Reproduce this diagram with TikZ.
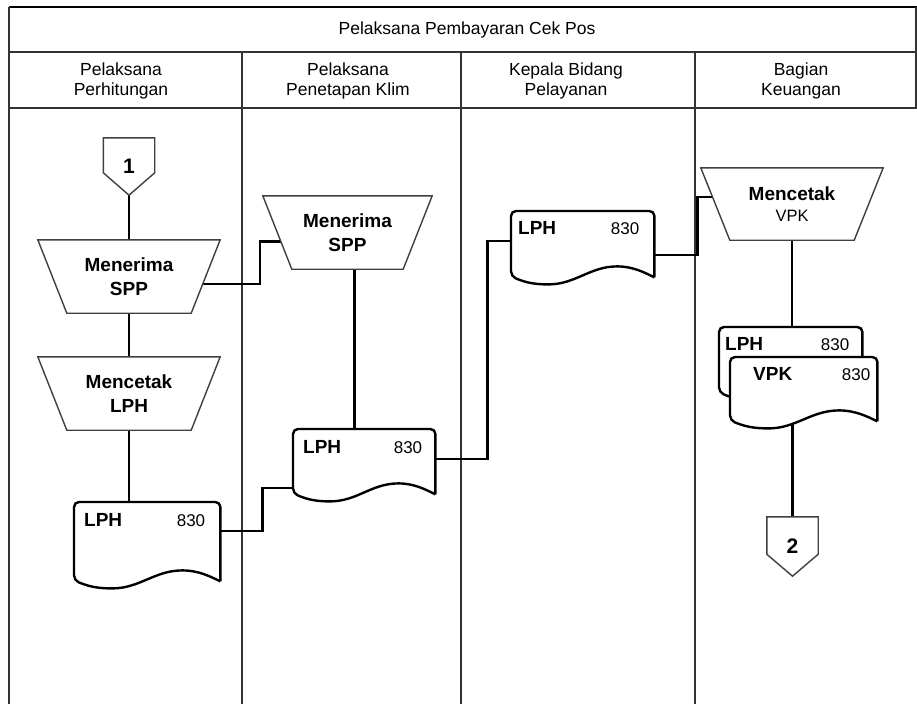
\documentclass[tikz,border=0pt]{standalone}
\usepackage{fontspec}
\setmainfont{Liberation Sans}
\usetikzlibrary{calc,backgrounds}

\tikzset{
  lane/.style={draw=black!80, line width=1.1pt},
  flow/.style={draw=black, line width=2.4pt},
  procline/.style={draw=black!75, line width=1.4pt, fill=white},
  docline/.style={draw=black, line width=2.4pt, fill=white},
  hdr/.style={font=\fontsize{17.5}{20}\selectfont, align=center},
  proc/.style={inner sep=0, minimum height=73, align=center, font=\fontsize{19}{23.5}\selectfont\bfseries},
  docbox/.style={inner sep=0, anchor=north west},
  lbl/.style={font=\fontsize{19}{22}\selectfont\bfseries, inner sep=0},
  num/.style={font=\fontsize{17}{20}\selectfont, inner sep=0},
  pagecon/.style={inner sep=0, minimum width=51, font=\fontsize{21}{24}\selectfont\bfseries}
}

\newcommand{\trapez}[1]{\draw[procline] (#1.north west) -- (#1.north east) -- (#1-br) -- (#1-bl) -- cycle;}
\newcommand{\offpage}[2]{\draw[procline] (#1.north west) -- (#1.north east) -- ($(#1.north east)!#2!(#1.south east)$) -- (#1.south) -- ($(#1.north west)!#2!(#1.south west)$) -- cycle;}
\newcommand{\lembar}[1]{\draw[docline] ($(#1.south east)+(0,1)$) [rounded corners=5] -- (#1.north east) -- (#1.north west) -- (#1.south west) [sharp corners]
  .. controls ($(#1.south west)!0.1!(#1.south east)+(0,6)$) and ($(#1.south west)!0.16!(#1.south east)+(0,8)$) .. ($(#1.south west)!0.26!(#1.south east)+(0,8)$)
  .. controls ($(#1.south west)!0.45!(#1.south east)+(0,8)$) and ($(#1.south west)!0.55!(#1.south east)+(0,-10)$) .. ($(#1.south west)!0.74!(#1.south east)+(0,-10)$)
  .. controls ($(#1.south west)!0.85!(#1.south east)+(0,-10)$) and ($(#1.south west)!0.93!(#1.south east)+(0,-4)$) .. ($(#1.south east)+(0,1)$);}

\begin{document}
\begin{tikzpicture}[x=1pt, y=-1pt]
  \useasboundingbox (0,0) rectangle (917,704);

  % header
  \node[hdr] (title) at (467,30) {Pelaksana Pembayaran Cek Pos};
  \node[hdr] (hd1) at (121,81) {Pelaksana\\Perhitungan};
  \node[hdr] (hd2) at (348,81) {Pelaksana\\Penetapan Klim};
  \node[hdr] (hd3) at (566,81) {Kepala Bidang\\Pelayanan};
  \node[hdr] (hd4) at (801,81) {Bagian\\Keuangan};

  % Pelaksana Perhitungan
  \node[pagecon, minimum height=57] (c1) at (129,166.5) {1};
  \node[proc, minimum width=182] (trap1) at (129,276.5) {Menerima\\SPP};
  \node[proc, minimum width=182] (trap3) at (129,393.5) {Mencetak\\LPH};
  \node[docbox, minimum width=146, minimum height=78] (doc1) at (74,502) {};

  % Pelaksana Penetapan Klim
  \node[proc, minimum width=169] (trap2) at (347.5,232.5) {Menerima\\SPP};
  \node[docbox, minimum width=142, minimum height=64] (doc2) at (293,429) {};

  % Kepala Bidang Pelayanan
  \node[docbox, minimum width=143, minimum height=65] (doc3) at (511,211) {};

  % Bagian Keuangan
  \node[proc, minimum width=182, minimum height=72] (trap4) at (792,204) {Mencetak\\[-3pt]{\mdseries\fontsize{16.5}{20}\selectfont VPK}};
  \node[docbox, minimum width=143, minimum height=65] (doc4b) at (719,327) {};
  \node[docbox, minimum width=147, minimum height=63] (doc4) at (730,357) {};
  \node[pagecon, minimum height=59] (c2) at (792.5,546.5) {2};

  \foreach \t in {trap1,trap2,trap3,trap4} {
    \coordinate (\t-bl) at ($(\t.south west)+(29,0)$);
    \coordinate (\t-br) at ($(\t.south east)+(-29,0)$);
  }
  \coordinate (j2) at ($(trap2.south)+(7,0)$);

  \begin{scope}[on background layer]
    % frame and lanes
    \draw[line width=2pt] (9,7) -- (917,7);
    \draw[lane] (9,7) -- (9,704);
    \draw[lane] (916,7) -- (916,108);
    \draw[lane] (9,52) -- (917,52);
    \draw[lane] (9,108) -- (917,108);
    \foreach \x in {242,461,695} \draw[lane] (\x,52) -- (\x,704);

    % flow lines
    \draw[flow] (c1.south) -- (trap1.north);
    \draw[flow] (trap1.south) -- (trap3.north);
    \draw[flow] (trap3.south) -- (trap3.south |- doc1.north);
    \draw[flow] ($(trap1.north east)!0.6!(trap1-br)$) -- ++(57,0) |- ($(trap2.north west)!0.62!(trap2-bl)$);
    \draw[flow] (j2) -- (j2 |- doc2.north);
    \draw[flow] ($(doc1.north east)+(0,29)$) -- ++(42,0) |- ($(doc2.north west)+(0,59)$);
    \draw[flow] ($(doc2.north east)+(0,30)$) -- ++(52,0) |- ($(doc3.north west)+(0,30)$);
    \draw[flow] ($(doc3.north east)+(0,44)$) -- ++(43,0) |- ($(trap4.north west)!0.4!(trap4-bl)$);
    \draw[flow] (trap4.south) -- (trap4.south |- doc4b.north);
    \draw[flow] (c2.north |- doc4.south) -- (c2.north);

    % shapes
    \offpage{c1}{0.61}
    \offpage{c2}{0.63}
    \trapez{trap1} \trapez{trap2} \trapez{trap3} \trapez{trap4}
    \lembar{doc1} \lembar{doc2} \lembar{doc3} \lembar{doc4b} \lembar{doc4}
  \end{scope}

  % document texts
  \node[lbl, anchor=base west] (doc1-k) at ($(doc1.north west)+(10,24)$) {LPH};
  \node[num, anchor=base east] (doc1-n) at ($(doc1.north east)+(-15,24)$) {830};
  \node[lbl, anchor=base west] (doc2-k) at ($(doc2.north west)+(10,24)$) {LPH};
  \node[num, anchor=base east] (doc2-n) at ($(doc2.north east)+(-13,24)$) {830};
  \node[lbl, anchor=base west] (doc3-k) at ($(doc3.north west)+(7,23)$) {LPH};
  \node[num, anchor=base east] (doc3-n) at ($(doc3.north east)+(-15,23)$) {830};
  \node[lbl, anchor=base west] (doc4b-k) at ($(doc4b.north west)+(6,23)$) {LPH};
  \node[num, anchor=base east] (doc4b-n) at ($(doc4b.north east)+(-13,23)$) {830};
  \node[lbl, anchor=base west] (doc4-k) at ($(doc4.north west)+(23,23)$) {VPK};
  \node[num, anchor=base east] (doc4-n) at ($(doc4.north east)+(-7,23)$) {830};
\end{tikzpicture}
\end{document}
